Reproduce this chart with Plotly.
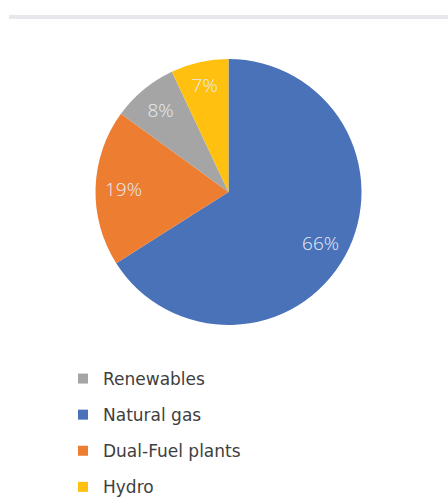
import plotly.graph_objects as go

labels = ["Natural gas", "Dual-Fuel plants", "Renewables", "Hydro"]
values = [66, 19, 8, 7]
colors = ["#4a72b8", "#ed7d31", "#a5a5a5", "#ffc010"]

legend_order = ["Renewables", "Natural gas", "Dual-Fuel plants", "Hydro"]
color_of = dict(zip(labels, colors))

W, H = 448, 497
cx, cy, r = 228.5, 305, 133
pie_domain = dict(x=[(cx - r) / W, (cx + r) / W], y=[(cy - r) / H, (cy + r) / H])

fig = go.Figure()
fig.add_trace(go.Pie(
    labels=labels,
    values=values,
    sort=False,
    direction="clockwise",
    rotation=0,
    marker=dict(colors=colors, line=dict(width=0)),
    textinfo="none",
    domain=pie_domain,
    showlegend=False,
))

# transparent ring on top that only carries the percent labels, pushed outward
fig.add_trace(go.Pie(
    labels=labels,
    values=values,
    sort=False,
    direction="clockwise",
    rotation=0,
    hole=0.58,
    marker=dict(colors=["rgba(0,0,0,0)"] * len(labels), line=dict(width=0)),
    texttemplate="%{percent:.0%}",
    textposition="inside",
    insidetextorientation="horizontal",
    textfont=dict(family="Open Sans", size=19, color="#e8ecf4", weight=300),
    hoverinfo="skip",
    domain=pie_domain,
    showlegend=False,
))

# legend entries in the same order as the reference
for i, name in enumerate(legend_order):
    fig.add_trace(go.Scatter(
        x=[None], y=[None], mode="markers", name=name,
        legendgroup=str(i),
        marker=dict(symbol="square", size=10, color=color_of[name]),
    ))

fig.update_layout(
    width=W, height=H,
    margin=dict(l=0, r=0, t=0, b=0, autoexpand=False),
    paper_bgcolor="white",
    plot_bgcolor="white",
    xaxis=dict(visible=False),
    yaxis=dict(visible=False),
    legend=dict(
        x=63 / W, y=1 - 361 / H, xanchor="left", yanchor="top",
        traceorder="grouped", tracegroupgap=11,
        font=dict(family="DejaVu Sans", size=17, color="#404040"),
        bgcolor="rgba(0,0,0,0)",
    ),
    shapes=[dict(
        type="rect", xref="paper", yref="paper",
        x0=9 / W, x1=1, y0=1 - 19 / H, y1=1 - 15 / H,
        fillcolor="#e8e8ec", line=dict(width=0), layer="below",
    )],
)

# drop the default body margin so the figure fills the window exactly
fig.write_html("out.html", config={"displayModeBar": False},
               post_script="document.body.style.margin='0';")
